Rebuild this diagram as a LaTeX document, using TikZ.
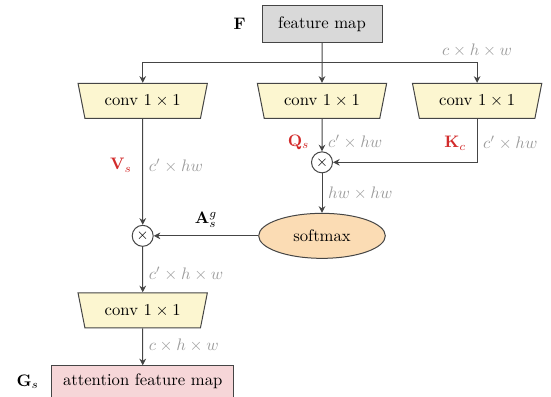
\documentclass[tikz,border=0pt]{standalone}
\usepackage{amsmath}
\usetikzlibrary{shapes.geometric,arrows.meta,positioning}
\definecolor{mapgray}{HTML}{D9D9D9}
\definecolor{convyellow}{HTML}{FCF6D0}
\definecolor{softorange}{HTML}{FBDCB4}
\definecolor{attpink}{HTML}{F6D6D8}
\definecolor{linegray}{HTML}{454545}
\definecolor{dimgray}{HTML}{9C9C9C}
\definecolor{qkvred}{HTML}{D22B2B}
\tikzset{
  mapbox/.style = {draw=linegray, semithick, rectangle, minimum height=22pt, align=center},
  cv/.style = {draw=linegray, fill=convyellow, semithick, trapezium, trapezium left angle=73, trapezium right angle=73, shape border rotate=180, trapezium stretches=true, minimum width=78pt, minimum height=21pt, inner sep=1pt},
  sm/.style = {draw=linegray, fill=softorange, semithick, ellipse, minimum height=27pt, minimum width=76pt},
  mul/.style = {draw=linegray, semithick, circle, minimum size=12.6pt, inner sep=0pt, font=\small},
  dimlbl/.style = {text=dimgray},
  redlbl/.style = {text=qkvred},
  arrow/.style = {semithick, draw=linegray, ->, >={Stealth[length=4pt,width=4pt]}}
}

\begin{document}
\begin{tikzpicture}
            \useasboundingbox (0,0) rectangle (330.6pt,-237.6pt);
            \node[mapbox, fill=mapgray, minimum width=72pt] (fmap) at (193.2pt,-14.4pt) {feature map};
            \node[left=6pt of fmap] (F) {$\mathbf{F}$};
            \coordinate[below=12pt of fmap] (split);
            \node[cv, below=24pt of fmap] (conv2) {conv $1\times1$};
            \node[cv, left=33.5pt of conv2] (conv1) {conv $1\times1$};
            \node[cv, right=19pt of conv2] (conv3) {conv $1\times1$};
            \node[mul, below=19.5pt of conv2] (mul1) {$\times$};
            \node[sm, below=23.7pt of mul1] (soft) {softmax};
            \node[mul] (mul2) at (conv1 |- soft) {$\times$};
            \node[cv, below=27.3pt of mul2] (conv4) {conv $1\times1$};
            \node[mapbox, fill=attpink, minimum width=109pt, minimum height=19pt, below=22.2pt of conv4] (att) {attention feature map};
            \node[left=4pt of att] (G) {$\mathbf{G}_s$};
            \draw[arrow] (fmap) -- (conv2);
            \draw[arrow] (split) -| (conv1);
            \draw[arrow] (split) -| node[pos=0.5, above, dimlbl] {$c\times h\times w$} (conv3);
            \draw[arrow] (conv2) -- node[pos=0.72, left=4pt, redlbl] {$\mathbf{Q}_s$} node[pos=0.72, right, dimlbl] {$c'\times hw$} (mul1);
            \draw[arrow] (conv3) |- node[pos=0.28, left=3pt, redlbl] {$\mathbf{K}_c$} node[pos=0.28, right, dimlbl] {$c'\times hw$} (mul1);
            \draw[arrow] (mul1) -- node[right, dimlbl] {$hw\times hw$} (soft);
            \draw[arrow] (conv1) -- node[pos=0.44, left=3pt, redlbl] {$\mathbf{V}_s$} node[pos=0.44, right, dimlbl] {$c'\times hw$} (mul2);
            \draw[arrow] (soft) -- node[above=1.5pt] {$\mathbf{A}_s^g$} (mul2);
            \draw[arrow] (mul2) -- node[pos=0.6, right, dimlbl] {$c'\times h\times w$} (conv4);
            \draw[arrow] (conv4) -- node[pos=0.47, right, dimlbl] {$c\times h\times w$} (att);
        \end{tikzpicture}
\end{document}
